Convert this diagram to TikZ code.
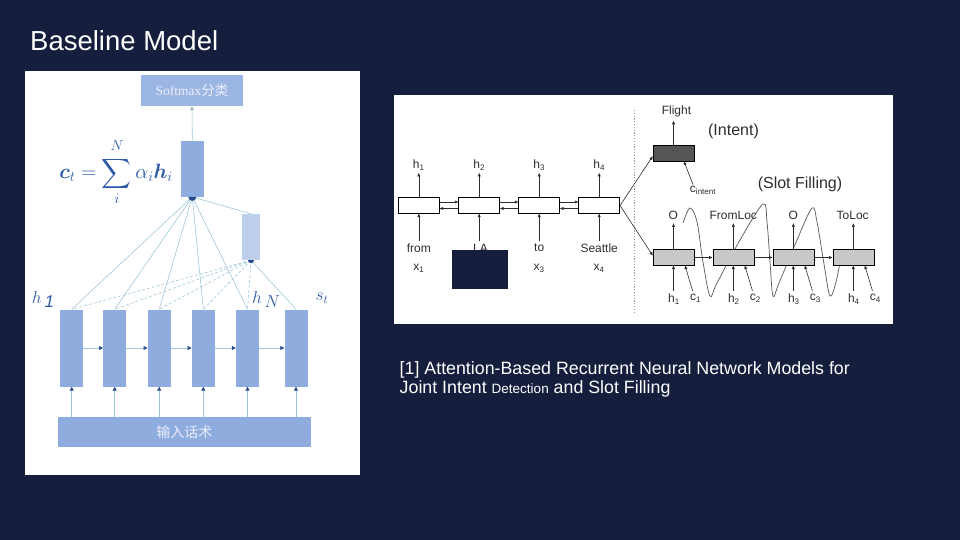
\documentclass[tikz,border=0pt]{standalone}
\usepackage{amsmath}
\usepackage{bm}
\usepackage{fontspec}
\setmainfont{Liberation Sans}
\newfontfamily\cjk{Noto Sans CJK SC}
\newfontfamily\serifrm{Liberation Serif}
\usetikzlibrary{arrows.meta}
\definecolor{bg}{RGB}{21,30,61}
\definecolor{cellblue}{RGB}{143,172,222}
\definecolor{paleblue}{RGB}{190,207,236}
\definecolor{smblue}{RGB}{155,182,226}
\definecolor{linkblue}{RGB}{160,200,218}
\definecolor{headblue}{RGB}{40,75,140}
\definecolor{mathblue}{RGB}{46,89,165}
\definecolor{darkcell}{RGB}{85,85,85}
\definecolor{graycell}{RGB}{200,200,200}
\definecolor{inkgray}{RGB}{45,45,45}
\begin{document}
\begin{tikzpicture}[x=1pt,y=-1pt,
  panel/.style={fill=white, inner sep=0pt},
  cell/.style={fill=cellblue, minimum width=23pt, minimum height=77pt, inner sep=0pt},
  enc/.style={draw=black, line width=0.6pt, fill=white, minimum width=41pt, minimum height=15.5pt, inner sep=0pt},
  slot/.style={enc, fill=graycell},
  lbl/.style={text=inkgray, font=\fontsize{12}{14}\selectfont, inner sep=0pt},
  bigl/.style={text=inkgray, font=\fontsize{16}{19}\selectfont, inner sep=0pt},
  mlbl/.style={text=mathblue, font=\fontsize{17}{20}\selectfont, inner sep=0pt},
  link/.style={draw=linkblue, line width=0.6pt},
  linkd/.style={link, dash pattern=on 3pt off 2pt},
  barrow/.style={draw=linkblue, line width=0.7pt, -{Triangle[length=4pt,width=4pt,color=headblue]}},
  karrow/.style={draw=inkgray, line width=0.6pt, -{Triangle[length=3.5pt,width=2.8pt]}},
  wtext/.style={text=white, inner sep=0pt, anchor=base west}
]
\useasboundingbox (0,0) rectangle (960,540);
\fill[bg] (0,0) rectangle (960,540);

% title
\node[wtext, font=\fontsize{27.5}{31}\selectfont] (title) at (30,51) {Baseline Model};

% ---------- left panel ----------
\node[panel, minimum width=335pt, minimum height=404pt] (lp) at (192.5,273) {};

\node[fill=smblue, minimum width=102pt, minimum height=31pt, inner sep=0pt, text=white!93!blue,
      font=\fontsize{13.5}{15}\selectfont] (sm) at (192,90.5) {{\serifrm Softmax}{\cjk 分类}};
\node[fill=cellblue, minimum width=23pt, minimum height=56pt, inner sep=0pt] (ct) at (192.3,168.7) {};
\node[fill=paleblue, minimum width=18.5pt, minimum height=46pt, inner sep=0pt] (st1) at (251,237) {};
\node[text=mathblue, font=\fontsize{20}{24}\selectfont, inner sep=0pt] (formula) at (116,172)
  {$\displaystyle \bm{c}_t=\sum_{i}^{\raisebox{2pt}{$\scriptstyle N$}}\alpha_i\bm{h}_i$};

\foreach \i/\x in {1/71.7,2/114.7,3/159.2,4/203.3,5/247.5,6/296}
  \node[cell] (b\i) at (\x,348) {};
\node[fill=cellblue, minimum width=253pt, minimum height=30.6pt, inner sep=0pt, text=white!93!blue,
      font=\cjk\fontsize{14}{16}\selectfont] (inp) at (184.3,432) {输入话术};

% attention connectors
\foreach \i in {1,...,5} \draw[link] (ct.south) -- (b\i.north);
\draw[link] (ct.south) -- (st1.north);
\foreach \i in {1,...,5} \draw[linkd] (st1.south) -- (b\i.north);
\draw[link] (st1.south) -- (b6.north);
\fill[headblue] ([xshift=-4pt]ct.south) arc[start angle=180,end angle=360,radius=4pt] -- cycle;
\fill[headblue] ([xshift=-3pt]st1.south) arc[start angle=180,end angle=360,radius=3pt] -- cycle;

\draw[link, -{Triangle[length=4pt,width=3.5pt,color=linkblue!70!gray]}] (ct.north) -- (sm.south);
\foreach \i/\j in {1/2,2/3,3/4,4/5,5/6} \draw[barrow] (b\i.east) -- (b\j.west);
\foreach \i in {1,...,6} \draw[barrow] (b\i.south |- inp.north) -- (b\i.south);

\node[mlbl] (lh1) at (43,299) {$h$\,\raisebox{-4pt}{$\mathit{1}$}};
\node[mlbl] (lhN) at (266,299) {$h$\,\raisebox{-4pt}{$N$}};
\node[mlbl] (lst) at (322,298) {$s_t$};

% ---------- right panel ----------
\node[panel, minimum width=499pt, minimum height=229pt] (rp) at (643.5,209.5) {};

\foreach \i/\x in {1/418.8,2/479.2,3/539.2,4/599.2}
  \node[enc] (e\i) at (\x,205.5) {};
\foreach \i in {1,...,4}
  \node[lbl] (eh\i) at (e\i |- 0,165.5) {h\textsubscript{\i}};
\foreach \i in {1,...,4}
  \draw[karrow, shorten >=2pt] (e\i.north) -- (e\i.north |- eh\i.south);

\node[lbl] (w1) at (418.8,248) {from};
\node[lbl] (w2) at (480.5,248) {LA};
\node[lbl] (w3) at (539.2,248) {to};
\node[lbl] (w4) at (599.2,248) {Seattle};
\node[lbl] (x1) at (418.8,268) {x\textsubscript{1}};
\node[lbl] (x3) at (539.2,268) {x\textsubscript{3}};
\node[lbl] (x4) at (599.2,268) {x\textsubscript{4}};
\foreach \i in {1,...,4}
  \draw[karrow, shorten <=2.5pt] (e\i.south |- w\i.north) -- (e\i.south);
\foreach \i/\j in {1/2,2/3,3/4} {
  \draw[karrow] ([yshift=3.5pt]e\i.east) -- ([yshift=3.5pt]e\j.west);
  \draw[karrow] ([yshift=-3pt]e\j.west) -- ([yshift=-3pt]e\i.east);
}
\fill[bg] (452.3,250) rectangle (508.3,289);

\coordinate (d1) at (634.3,110);
\coordinate (d2) at (634.3,314);
\draw[gray!80, line width=1pt, dash pattern=on 1.2pt off 1.6pt] (d1) -- (d2);

% intent
\node[enc, fill=darkcell] (I) at (673.5,153.3) {};
\node[lbl] (flight) at (676.5,111) {Flight};
\draw[karrow, shorten >=4pt] (I.north) -- (I.north |- flight.south);
\node[bigl] (intent) at (733.5,131.5) {(Intent)};
\node[lbl] (ci) at (703,190) {c\textsubscript{intent}};
\draw[karrow] ([xshift=-10pt,yshift=1pt]ci.north) -- ([xshift=10.5pt]I.south);
\node[bigl] (slotf) at (800,184) {(Slot Filling)};

% slot filling curve (drawn before the slot boxes that hide parts of it)
\draw[inkgray!80, line width=0.7pt] plot[smooth, tension=0.55] coordinates {
  (683,223) (690,208) (697,222) (703,262) (710,296) (717,283) (740,240) (763,204)
  (767,222) (770,262) (773,296) (779,283) (797,240) (812,208) (817,222) (824,264) (830,296) (836,282) (840,262)};

\foreach \i/\x in {1/673.5,2/733.3,3/793.3,4/853.3}
  \node[slot] (s\i) at (\x,257.5) {};
\foreach \i/\j in {1/2,2/3,3/4} \draw[karrow] (s\i.east) -- (s\j.west);

\node[lbl] (o1) at (673.3,215) {O};
\node[lbl] (o2) at (733.3,215) {FromLoc};
\node[lbl] (o3) at (793.3,215) {O};
\node[lbl] (o4) at (852.7,215) {ToLoc};
\foreach \i in {1,...,4}
  \draw[karrow, shorten >=4pt] (s\i.north) -- (s\i.north |- o\i.south);

\foreach \i in {1,...,4} {
  \node[lbl] (sh\i) at ([xshift=0.5pt]s\i.center |- 0,299) {h\textsubscript{\i}};
  \node[lbl] (sc\i) at ([xshift=22pt]s\i.center |- 0,298) {c\textsubscript{\i}};
  \draw[karrow, shorten <=3pt] (s\i.south |- sh\i.north) -- (s\i.south);
  \draw[karrow, shorten <=3pt] ([xshift=-2pt]sc\i.north) -- ([xshift=11.5pt]s\i.south);
}
\draw[karrow] (e4.east) -- ([yshift=-3pt]I.west);
\draw[karrow] (e4.east) -- ([yshift=2pt]s1.west);

% citation
\node[wtext, font=\fontsize{17.8}{20}\selectfont] (cite1) at (399.5,374)
  {[1] Attention-Based Recurrent Neural Network Models for};
\node[wtext, font=\fontsize{17.8}{20}\selectfont] (cite2) at (399.5,393.3)
  {Joint Intent {\fontsize{13.5}{15}\selectfont Detection} and Slot Filling};
\end{tikzpicture}
\end{document}
